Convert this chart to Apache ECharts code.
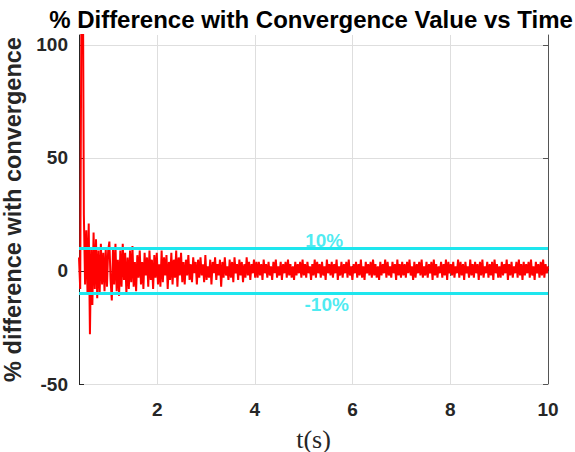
<!DOCTYPE html>
<html>
<head>
<meta charset="utf-8">
<script src="https://cdn.jsdelivr.net/npm/echarts@6/dist/echarts.min.js"></script>
<style>html,body{margin:0;padding:0;background:#fff}#c{width:575px;height:452px}</style>
</head>
<body>
<div id="c"></div>
<script>
// time range of the recorded signal (s)
const T_START = 0.4;
const T_END = 10;
// x tick labels and y tick labels
const X_TICKS = [2, 4, 6, 8, 10];
const Y_TICKS = [-50, 0, 50, 100];
// convergence limits (%)
const LIMIT_UP = 10;
const LIMIT_DOWN = -10;
const LIMIT_LABELS = ['10%', '-10%'];
const LABEL_POS = [[5.42, 13.7], [5.47, -15.0]];

// % difference values, evenly spaced in time
const diffEarly = [6, -8, 120, 160, 25, -6, 18, -10, 21, -28, 10, -15, 17, -8, 14, -12, 9, -10, 12, -6, 8, -9, 10, -7, 9, 13, -4];
const diffB = [-13, 10, -6, 12, -9, 5, -11, 9, -7, 12, -4, 8, -10, 6, -8, 9, -5, 11, -7, 4];
const diffC = [-9, 7, -3, 9, -6, 4, -8, 8, -2, 6, -7, 9, -4, 5, -8, 7, -3, 8, -6, 3,
               -7, 9, -5, 6, -2, 7, -8, 4, -4, 8, -6, 5, -3, 9, -7, 6, -2, 8, -5, 4];
const diffD = [-6, 5, -2, 7, -4, 3, -5, 6, -1, 4, -6, 5, -3, 6, -2, 3, -5, 7, -4, 2,
               -3, 5, -6, 4, -1, 6, -4, 3, -2, 5, -7, 4, -3, 6, -2, 2, -4, 5, -3, 4,
               -5, 6, -1, 3, -4, 5, -2, 4, -5, 3, -3, 6, -2, 4, -4, 3, -1, 5, -3, 4];
const diffLate = [
  -3, 4, -2, 3, -4, 5, -1, 3, -3, 4, -2, 2, -4, 4, -1, 5, -3, 2, -2, 4,
  -4, 3, -1, 4, -3, 5, -2, 3, -3, 2, -4, 4, -2, 3, -1, 4, -3, 5, -2, 3,
  -3, 4, -1, 2, -4, 3, -2, 5, -3, 4, -1, 3, -3, 4, -2, 2, -4, 5, -1, 3,
  -2, 4, -3, 3, -1, 5, -4, 2, -2, 4, -3, 3, -1, 4, -3, 5, -2, 2, -4, 3,
  -1, 4, -3, 3, -2, 5, -3, 2, -4, 4, -1, 3, -2, 4, -3, 5, -2, 3, -3, 2,
  -4, 4, -2, 3, -1, 5, -3, 4, -2, 2, -3, 4, -1, 3, -4, 5, -2, 3, -3, 4,
  -2, 3, -3, 4, -1, 5, -2, 2, -4, 4, -3, 3, -1, 4, -2, 5, -3, 2, -2, 4,
  -3, 3, -1, 4, -4, 5, -2, 3, -3, 2, -1, 4, -3, 3, -2, 5, -4, 4, -1, 3,
  -2, 4, -3, 2, -1, 5, -3, 4, -2, 3, -4, 4, -1, 2, -3, 5, -2, 3, -3, 4,
  -1, 3, -4, 4, -2, 5, -3, 2, -1, 4, -3, 3, -2, 4, -4, 5, -1, 3, -3, 2,
  -3, 4, -2, 3, -1, 5, -4, 3, -2, 4, -3, 2, -1, 4, -3, 5, -2, 3, -4, 4,
  -2, 3, -1, 4, -3, 5, -2, 2, -4, 4, -1, 3, -3, 4, -2, 5, -3, 3, -1, 2];

const diffValues = [].concat(diffEarly, diffB, diffC, diffD, diffLate);
const n = diffValues.length;
const signal = diffValues.map((v, i) => [T_START + (T_END - T_START) * i / (n - 1), v]);

const FONT = '"Liberation Sans", Arial, Helvetica, sans-serif';
const DARK = '#262626';
const CYAN = '#1ee6ee';

const chart = echarts.init(document.getElementById('c'), null, {renderer: 'svg'});
chart.setOption({
  animation: false,
  backgroundColor: '#ffffff',
  title: {
    text: '% Difference with Convergence Value vs Time',
    left: 306, top: 2, textAlign: 'center',
    textStyle: {fontFamily: FONT, fontSize: 24, fontWeight: 'bold', color: '#000'}
  },
  grid: {left: 79, right: 27, top: 35, bottom: 68, containLabel: false, outerBoundsMode: 'none'},
  xAxis: [{
    type: 'value', min: T_START, max: T_END, position: 'bottom',
    name: 't(s)', nameLocation: 'middle', nameGap: 42,
    nameTextStyle: {fontFamily: '"Liberation Serif", "DejaVu Serif", serif', fontSize: 26, color: DARK},
    axisLine: {show: true, lineStyle: {color: DARK, width: 1}},
    axisTick: {show: true, inside: true, length: 5, customValues: X_TICKS, lineStyle: {color: DARK}},
    axisLabel: {customValues: X_TICKS, margin: 16, fontFamily: FONT, fontSize: 19, fontWeight: 'bold', color: DARK},
    splitLine: {show: true, lineStyle: {color: '#dedede', width: 1}}
  }, {
    type: 'value', min: T_START, max: T_END, position: 'top',
    axisLine: {show: true, lineStyle: {color: '#555', width: 1}},
    axisTick: {show: true, inside: true, length: 5, customValues: X_TICKS, lineStyle: {color: '#555'}},
    axisLabel: {show: false, customValues: X_TICKS},
    splitLine: {show: false}
  }],
  yAxis: [{
    type: 'value', min: Y_TICKS[0], max: 104.4, interval: 50,
    name: '% difference with convergence', nameLocation: 'middle', nameGap: 52,
    nameTextStyle: {fontFamily: FONT, fontSize: 23.5, fontWeight: 'bold', color: DARK},
    axisLine: {show: true, lineStyle: {color: DARK, width: 1}},
    axisTick: {show: true, inside: true, length: 5, customValues: Y_TICKS, lineStyle: {color: DARK}},
    axisLabel: {customValues: Y_TICKS, margin: 11, fontFamily: FONT, fontSize: 19, fontWeight: 'bold', color: DARK},
    splitLine: {show: true, lineStyle: {color: '#dedede', width: 1}}
  }, {
    type: 'value', min: Y_TICKS[0], max: 104.4, interval: 50, position: 'right',
    axisLine: {show: true, lineStyle: {color: '#555', width: 1}},
    axisTick: {show: true, inside: true, length: 5, customValues: Y_TICKS, lineStyle: {color: '#555'}},
    axisLabel: {show: false},
    splitLine: {show: false}
  }],
  series: [{
    type: 'line', data: signal, showSymbol: false, symbol: 'none', clip: true,
    lineStyle: {color: '#ff0000', width: 2}, z: 3
  }, {
    type: 'line', data: [[T_START, LIMIT_UP], [T_END, LIMIT_UP]], symbol: 'none',
    lineStyle: {color: CYAN, width: 3}, z: 4
  }, {
    type: 'line', data: [[T_START, LIMIT_DOWN], [T_END, LIMIT_DOWN]], symbol: 'none',
    lineStyle: {color: CYAN, width: 3}, z: 4
  }, {
    type: 'scatter', symbolSize: 0, z: 5,
    data: LABEL_POS.map((p, i) => ({value: p, label: {formatter: LIMIT_LABELS[i]}})),
    label: {show: true, position: 'inside', fontFamily: FONT, fontSize: 19, fontWeight: 'bold', color: CYAN}
  }]
});
</script>
</body>
</html>
